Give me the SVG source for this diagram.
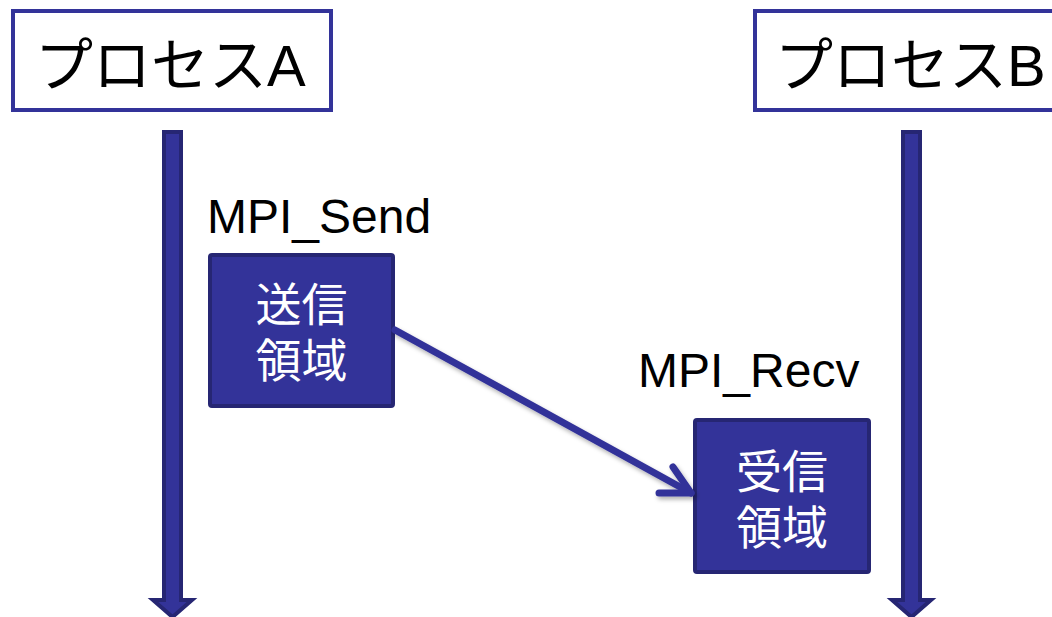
<svg xmlns="http://www.w3.org/2000/svg" width="1052" height="617" viewBox="0 0 1052 617">
<style>
.proc{fill:#ffffff;stroke:#333399;stroke-width:4}
.ptext{font-family:"Liberation Sans","Noto Sans CJK JP",sans-serif;font-size:58px;fill:#000000}
.life{fill:#333399;stroke:#262673;stroke-width:4;stroke-linejoin:miter}
.buf{fill:#333399;stroke:#262673;stroke-width:4}
.btext{font-family:"Liberation Sans","Noto Sans CJK JP",sans-serif;font-size:46px;fill:#ffffff;text-anchor:middle}
.lbl{font-family:"Liberation Sans","Noto Sans CJK JP",sans-serif;font-size:48px;fill:#000000}
.conn{fill:none;stroke:#333399;stroke-width:7;stroke-linecap:round;stroke-linejoin:round}
</style>
<defs>
<filter id="sh" x="-10%" y="-10%" width="130%" height="130%">
<feDropShadow dx="2" dy="3" stdDeviation="2" flood-color="#000000" flood-opacity="0.3"/>
</filter>
</defs>
<g id="procA">
<rect class="proc" x="13" y="11" width="318" height="99"/>
<text class="ptext" x="35" y="86">プロセスA</text>
</g>
<g id="procB">
<rect class="proc" x="755" y="11" width="320" height="99"/>
<text class="ptext" x="775" y="86">プロセスB</text>
</g>
<g id="lifelineA">
<path class="life" d="M164,132 L181,132 L181,600 L192,600 L172.5,617 L153,600 L164,600 Z"/>
</g>
<g id="lifelineB">
<path class="life" d="M903,132 L920,132 L920,600 L931,600 L911.5,617 L892,600 L903,600 Z"/>
</g>
<g id="sendLabel">
<text class="lbl" x="207" y="233">MPI_Send</text>
</g>
<g id="recvLabel">
<text class="lbl" x="638" y="387">MPI_Recv</text>
</g>
<g id="sendBuf">
<rect class="buf" x="210" y="255" width="183" height="151" rx="2"/>
<text class="btext" x="301.5" y="321">送信</text>
<text class="btext" x="301.5" y="377">領域</text>
</g>
<g id="recvBuf">
<rect class="buf" x="695" y="420" width="174" height="152" rx="2"/>
<text class="btext" x="782" y="488">受信</text>
<text class="btext" x="782" y="544">領域</text>
</g>
<g id="connectors" filter="url(#sh)">
<path class="conn" d="M395,330 L691,493"/>
<path class="conn" d="M673,467 L691,493 L659,493"/>
</g>
</svg>
